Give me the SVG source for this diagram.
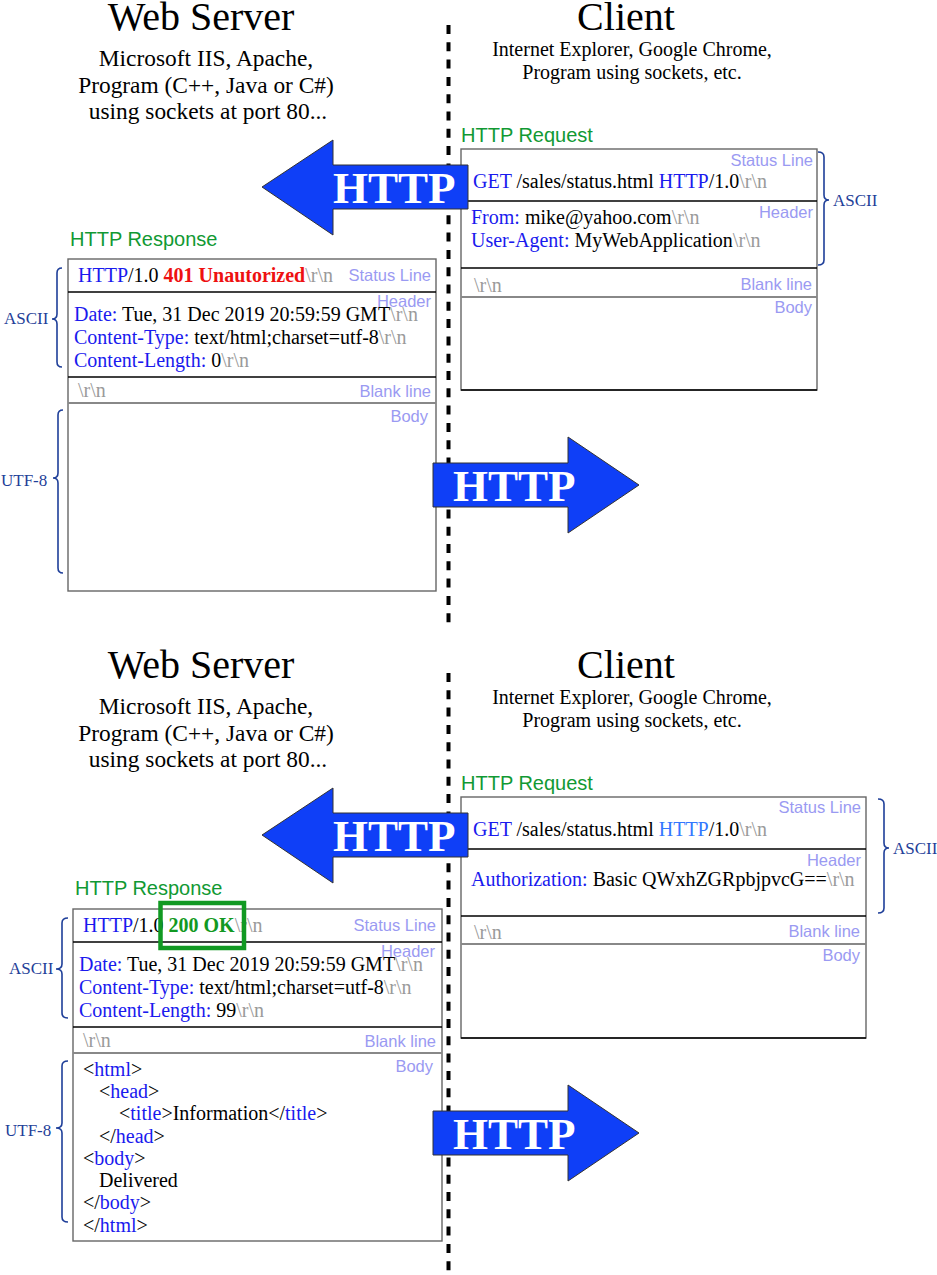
<svg xmlns="http://www.w3.org/2000/svg" width="937" height="1275" viewBox="0 0 937 1275">
<style>
.title{font-family:"Liberation Serif",serif;font-size:40px;fill:#000;text-anchor:middle}
.sub{font-family:"Liberation Serif",serif;font-size:23.4px;fill:#000;text-anchor:middle}
.csub{font-family:"Liberation Serif",serif;font-size:20px;fill:#000;text-anchor:middle}
.t{font-family:"Liberation Serif",serif;font-size:20px;fill:#000}
.kw{fill:#1a1aee}
.kw2{fill:#3377ff}
.g{fill:#9a9a9a}
.red{fill:#ee1111;font-weight:bold}
.ok{fill:#119922;font-weight:bold}
.lbl{font-family:"Liberation Sans",sans-serif;font-size:16.5px;fill:#9a9af2;text-anchor:end}
.glbl{font-family:"Liberation Sans",sans-serif;font-size:20px;fill:#119933}
.enc{font-family:"Liberation Serif",serif;font-size:17px;fill:#1f3f99}
.brace{fill:none;stroke:#1f3f99;stroke-width:1.6}
.box{fill:#fff;stroke:#666;stroke-width:1.4}
.div{stroke:#000;stroke-width:1.4}
.divg{stroke:#888;stroke-width:2}
.arrow{fill:#0f3ff7;stroke:#333;stroke-width:1}
.at{font-family:"Liberation Serif",serif;font-size:45px;font-weight:bold;fill:#fff}
.dash{stroke:#000;stroke-width:4;stroke-dasharray:9 8.3}
</style>

<g id="separators">
<line class="dash" x1="448.5" y1="25" x2="448.5" y2="627"/>
<line class="dash" x1="448.5" y1="673" x2="448.5" y2="1275"/>
</g>

<!-- ===== Top half ===== -->
<g id="server-top">
<text class="title" x="201" y="30">Web Server</text>
<text class="sub" x="206" y="66">Microsoft IIS, Apache,</text>
<text class="sub" x="206" y="93">Program (C++, Java or C#)</text>
<text class="sub" x="208" y="119">using sockets at port 80...</text>
</g>
<g id="client-top">
<text class="title" x="626" y="30">Client</text>
<text class="csub" x="632" y="56">Internet Explorer, Google Chrome,</text>
<text class="csub" x="632" y="79">Program using sockets, etc.</text>
</g>

<g id="request-top">
<text class="glbl" x="461" y="142">HTTP Request</text>
<rect class="box" x="461" y="149" width="356" height="241"/>
<line class="div" x1="461" y1="201" x2="817" y2="201"/>
<line class="div" x1="461" y1="268" x2="817" y2="268"/>
<line class="divg" x1="461" y1="297" x2="817" y2="297"/>
<line class="div" x1="461" y1="390" x2="817" y2="390"/>
<text class="lbl" x="813" y="166">Status Line</text>
<text class="t" x="473" y="188"><tspan class="kw">GET</tspan> /sales/status.html <tspan class="kw">HTTP</tspan>/1.0<tspan class="g">\r\n</tspan></text>
<text class="lbl" x="813" y="218">Header</text>
<text class="t" x="471" y="224"><tspan class="kw">From:</tspan> mike@yahoo.com<tspan class="g">\r\n</tspan></text>
<text class="t" x="471" y="247"><tspan class="kw">User-Agent:</tspan> MyWebApplication<tspan class="g">\r\n</tspan></text>
<text class="t g" x="474" y="292">\r\n</text>
<text class="lbl" x="812" y="290">Blank line</text>
<text class="lbl" x="812" y="313">Body</text>
<path class="brace" d="M818 152 Q824 152 824 157 L824 195 Q824 200 829 200 Q824 200 824 205 L824 260 Q824 265 818 265"/>
<text class="enc" x="833" y="206">ASCII</text>
</g>

<g id="response-top">
<text class="glbl" x="70" y="246">HTTP Response</text>
<rect class="box" x="68" y="259" width="368" height="332"/>
<line class="div" x1="68" y1="292" x2="436" y2="292"/>
<line class="div" x1="68" y1="377" x2="436" y2="377"/>
<line class="divg" x1="68" y1="403" x2="436" y2="403"/>
<text class="t" x="78" y="282"><tspan class="kw">HTTP</tspan>/1.0 <tspan class="red">401 Unautorized</tspan><tspan class="g">\r\n</tspan></text>
<text class="lbl" x="431" y="281">Status Line</text>
<text class="lbl" x="431" y="307">Header</text>
<text class="t" x="74" y="321"><tspan class="kw">Date:</tspan> Tue, 31 Dec 2019 20:59:59 GMT<tspan class="g">\r\n</tspan></text>
<text class="t" x="74" y="344"><tspan class="kw">Content-Type:</tspan> text/html;charset=utf-8<tspan class="g">\r\n</tspan></text>
<text class="t" x="74" y="367"><tspan class="kw">Content-Length:</tspan> 0<tspan class="g">\r\n</tspan></text>
<text class="t g" x="78" y="397">\r\n</text>
<text class="lbl" x="431" y="397">Blank line</text>
<text class="lbl" x="428" y="422">Body</text>
<path class="brace" d="M62 268 Q57 268 57 273 L57 314 Q57 319 52 319 Q57 319 57 324 L57 362 Q57 367 62 367"/>
<text class="enc" x="4" y="324">ASCII</text>
<path class="brace" d="M63 410 Q58 410 58 415 L58 473 Q58 478 53 478 Q58 478 58 483 L58 568 Q58 573 63 573"/>
<text class="enc" x="1" y="486">UTF-8</text>
</g>

<!-- ===== Bottom half ===== -->
<g id="server-bottom">
<text class="title" x="201" y="678">Web Server</text>
<text class="sub" x="206" y="714">Microsoft IIS, Apache,</text>
<text class="sub" x="206" y="741">Program (C++, Java or C#)</text>
<text class="sub" x="208" y="767">using sockets at port 80...</text>
</g>
<g id="client-bottom">
<text class="title" x="626" y="678">Client</text>
<text class="csub" x="632" y="704">Internet Explorer, Google Chrome,</text>
<text class="csub" x="632" y="727">Program using sockets, etc.</text>
</g>

<g id="request-bottom">
<text class="glbl" x="461" y="790">HTTP Request</text>
<rect class="box" x="461" y="797" width="405" height="241"/>
<line class="div" x1="461" y1="849" x2="866" y2="849"/>
<line class="div" x1="461" y1="916" x2="866" y2="916"/>
<line class="divg" x1="461" y1="944" x2="866" y2="944"/>
<line class="div" x1="461" y1="1038" x2="866" y2="1038"/>
<text class="lbl" x="861" y="813">Status Line</text>
<text class="t" x="473" y="836"><tspan class="kw">GET</tspan> /sales/status.html <tspan class="kw2">HTTP</tspan>/1.0<tspan class="g">\r\n</tspan></text>
<text class="lbl" x="861" y="866">Header</text>
<text class="t" x="471" y="886"><tspan class="kw">Authorization:</tspan> Basic QWxhZGRpbjpvcG==<tspan class="g">\r\n</tspan></text>
<text class="t g" x="474" y="939">\r\n</text>
<text class="lbl" x="860" y="937">Blank line</text>
<text class="lbl" x="860" y="961">Body</text>
<path class="brace" d="M878 799 Q884 799 884 804 L884 843 Q884 848 889 848 Q884 848 884 853 L884 908 Q884 913 878 913"/>
<text class="enc" x="893" y="854">ASCII</text>
</g>

<g id="response-bottom">
<text class="glbl" x="75" y="895">HTTP Response</text>
<rect class="box" x="73" y="909" width="369" height="332"/>
<line class="div" x1="73" y1="942" x2="442" y2="942"/>
<line class="div" x1="73" y1="1027" x2="442" y2="1027"/>
<line class="divg" x1="73" y1="1053" x2="442" y2="1053"/>
<text class="t" x="83" y="932"><tspan class="kw">HTTP</tspan>/1.0 <tspan class="ok">200 OK</tspan><tspan class="g">\r\n</tspan></text>
<rect x="160.5" y="903" width="83.5" height="45" fill="none" stroke="#119922" stroke-width="4.5"/>
<text class="lbl" x="436" y="931">Status Line</text>
<text class="lbl" x="435" y="957">Header</text>
<text class="t" x="79" y="971"><tspan class="kw">Date:</tspan> Tue, 31 Dec 2019 20:59:59 GMT<tspan class="g">\r\n</tspan></text>
<text class="t" x="79" y="994"><tspan class="kw">Content-Type:</tspan> text/html;charset=utf-8<tspan class="g">\r\n</tspan></text>
<text class="t" x="79" y="1017"><tspan class="kw">Content-Length:</tspan> 99<tspan class="g">\r\n</tspan></text>
<text class="t g" x="83" y="1047">\r\n</text>
<text class="lbl" x="436" y="1047">Blank line</text>
<text class="lbl" x="433" y="1072">Body</text>
<text class="t" x="83" y="1076">&lt;<tspan class="kw">html</tspan>&gt;</text>
<text class="t" x="99" y="1098">&lt;<tspan class="kw">head</tspan>&gt;</text>
<text class="t" x="119" y="1120">&lt;<tspan class="kw">title</tspan>&gt;Information&lt;/<tspan class="kw">title</tspan>&gt;</text>
<text class="t" x="99" y="1143">&lt;/<tspan class="kw">head</tspan>&gt;</text>
<text class="t" x="83" y="1165">&lt;<tspan class="kw">body</tspan>&gt;</text>
<text class="t" x="99" y="1187">Delivered</text>
<text class="t" x="83" y="1209">&lt;/<tspan class="kw">body</tspan>&gt;</text>
<text class="t" x="83" y="1232">&lt;/<tspan class="kw">html</tspan>&gt;</text>
<path class="brace" d="M68 918 Q62 918 62 923 L62 964 Q62 969 56 969 Q62 969 62 974 L62 1013 Q62 1018 68 1018"/>
<text class="enc" x="9" y="974">ASCII</text>
<path class="brace" d="M68 1061 Q62 1061 62 1066 L62 1123 Q62 1128 56 1128 Q62 1128 62 1133 L62 1217 Q62 1222 68 1222"/>
<text class="enc" x="5" y="1136">UTF-8</text>
</g>

<g id="connectors">
<polygon class="arrow" points="262,187 333,140 333,165 468,165 468,209 333,209 333,235"/>
<text class="at" x="333" y="203">HTTP</text>
<polygon class="arrow" points="433,463 568,463 568,437 639,485 568,533 568,507 433,507"/>
<text class="at" x="453" y="501">HTTP</text>
<polygon class="arrow" points="262,835 333,788 333,813 468,813 468,857 333,857 333,883"/>
<text class="at" x="333" y="851">HTTP</text>
<polygon class="arrow" points="433,1111 568,1111 568,1085 639,1133 568,1181 568,1155 433,1155"/>
<text class="at" x="453" y="1149">HTTP</text>
</g>
</svg>
